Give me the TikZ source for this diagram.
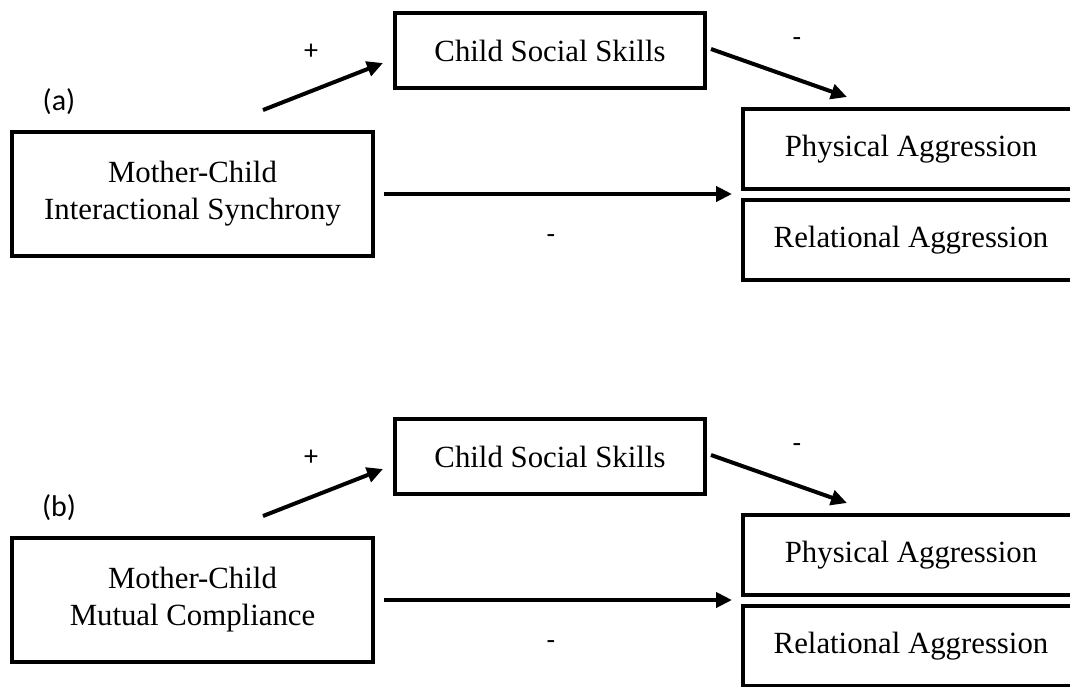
\documentclass[tikz,border=0pt]{standalone}
\usepackage{fontspec}
\setmainfont{Liberation Serif}
\newfontfamily\lblfont{Carlito}
\usetikzlibrary{arrows.meta}
\tikzset{
  box/.style={draw=black, line width=4pt, fill=white, inner sep=0pt, align=center,
    font=\fontsize{30.8}{37}\selectfont},
  conn/.style={line width=4pt, -{Triangle[length=16pt,width=15pt]}, shorten >=0pt},
  sign/.style={font=\lblfont\fontsize{28}{32}\selectfont, inner sep=0pt},
  tag/.style={font=\lblfont\fontsize{30}{36}\selectfont, inner sep=0pt}
}
\begin{document}
\begin{tikzpicture}[x=1pt,y=-1pt]
\useasboundingbox (0,0) rectangle (1070,686);
\clip (0,0) rectangle (1070,686);
% ---------- panel (a) ----------
\node[box, minimum width=361pt, minimum height=124pt] (ma) at (192.5,194) {Mother-Child\\Interactional Synchrony};
\node[box, minimum width=310pt, minimum height=75pt] (ca) at (550,50.5) {Child Social Skills};
\node[box, minimum width=336pt, minimum height=80pt] (pa) at (911,149) {Physical Aggression};
\node[box, minimum width=336pt, minimum height=80pt] (ra) at (911,240) {Relational Aggression};
\node[tag] (la) at (59,102) {(a)};
\node[sign] (spa) at (311,52) {+};
\node[sign] (sma) at (797,42) {-};
\node[sign] (sda) at (551,239) {-};
\coordinate (a1s) at (263,110);
\coordinate (a1e) at (383,63);
\coordinate (a2s) at (711,49);
\coordinate (a2e) at (847,97);
\coordinate (a3s) at (384,194);
\coordinate (a3e) at (732,194);
\draw[conn] (a1s) -- (a1e);
\draw[conn] (a2s) -- (a2e);
\draw[conn] (a3s) -- (a3e);
% ---------- panel (b) ----------
\begin{scope}[shift={(0,406)}]
\node[box, minimum width=361pt, minimum height=124pt] (mb) at (192.5,194) {Mother-Child\\Mutual Compliance};
\node[box, minimum width=310pt, minimum height=75pt] (cb) at (550,50.5) {Child Social Skills};
\node[box, minimum width=336pt, minimum height=80pt] (pb) at (911,149) {Physical Aggression};
\node[box, minimum width=336pt, minimum height=80pt] (rb) at (911,240) {Relational Aggression};
\node[tag] (lb) at (59,102) {(b)};
\node[sign] (spb) at (311,52) {+};
\node[sign] (smb) at (797,42) {-};
\node[sign] (sdb) at (551,239) {-};
\coordinate (b1s) at (263,110);
\coordinate (b1e) at (383,63);
\coordinate (b2s) at (711,49);
\coordinate (b2e) at (847,97);
\coordinate (b3s) at (384,194);
\coordinate (b3e) at (732,194);
\draw[conn] (b1s) -- (b1e);
\draw[conn] (b2s) -- (b2e);
\draw[conn] (b3s) -- (b3e);
\end{scope}
\end{tikzpicture}
\end{document}
